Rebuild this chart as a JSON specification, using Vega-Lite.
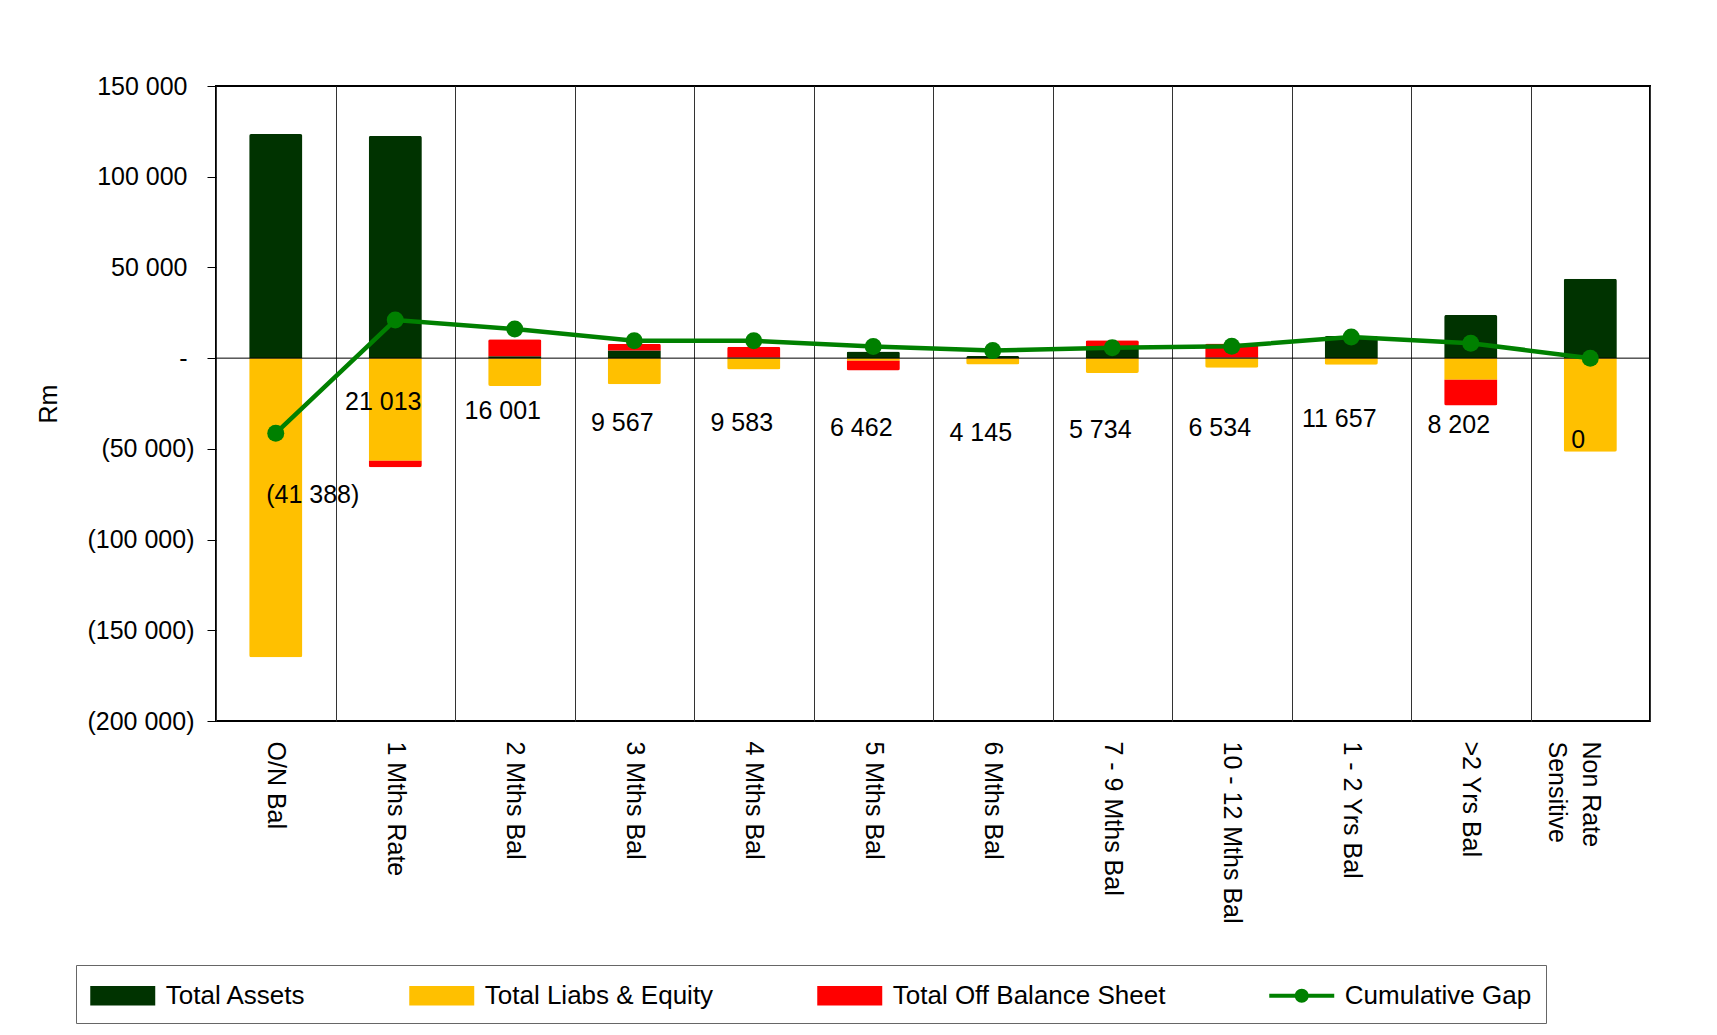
{
  "$schema": "https://vega.github.io/schema/vega-lite/v6.json",
  "width": 1434,
  "height": 635,
  "autosize": {"type": "none"},
  "padding": {"left": 216, "top": 86, "right": 67, "bottom": 314},
  "background": "#ffffff",
  "config": {
    "font": "Liberation Sans",
    "locale": {"number": {"decimal": ".", "thousands": " ", "grouping": [3], "currency": ["", ""]}},
    "view": {"stroke": "#000000", "strokeWidth": 2},
    "axis": {"labelFont": "Liberation Sans", "labelColor": "#000000", "titleFont": "Liberation Sans", "titleColor": "#000000"}
  },
  "datasets": {
    "bars": [
      {"bucket": "O/N Bal", "series": "Total Assets", "value": 123500},
      {"bucket": "O/N Bal", "series": "Total Liabs & Equity", "value": -164888},
      {"bucket": "1 Mths Rate", "series": "Total Assets", "value": 122500},
      {"bucket": "1 Mths Rate", "series": "Total Liabs & Equity", "value": -56500},
      {"bucket": "1 Mths Rate", "series": "Total Off Balance Sheet", "value": -3599},
      {"bucket": "2 Mths Bal", "series": "Total Assets", "value": 1000},
      {"bucket": "2 Mths Bal", "series": "Total Liabs & Equity", "value": -15412},
      {"bucket": "2 Mths Bal", "series": "Total Off Balance Sheet", "value": 9400},
      {"bucket": "3 Mths Bal", "series": "Total Assets", "value": 4200},
      {"bucket": "3 Mths Bal", "series": "Total Liabs & Equity", "value": -14334},
      {"bucket": "3 Mths Bal", "series": "Total Off Balance Sheet", "value": 3700},
      {"bucket": "4 Mths Bal", "series": "Total Assets", "value": 300},
      {"bucket": "4 Mths Bal", "series": "Total Liabs & Equity", "value": -6284},
      {"bucket": "4 Mths Bal", "series": "Total Off Balance Sheet", "value": 6000},
      {"bucket": "5 Mths Bal", "series": "Total Assets", "value": 3700},
      {"bucket": "5 Mths Bal", "series": "Total Liabs & Equity", "value": -1500},
      {"bucket": "5 Mths Bal", "series": "Total Off Balance Sheet", "value": -5321},
      {"bucket": "6 Mths Bal", "series": "Total Assets", "value": 1200},
      {"bucket": "6 Mths Bal", "series": "Total Liabs & Equity", "value": -3517},
      {"bucket": "7 - 9 Mths Bal", "series": "Total Assets", "value": 6500},
      {"bucket": "7 - 9 Mths Bal", "series": "Total Liabs & Equity", "value": -8211},
      {"bucket": "7 - 9 Mths Bal", "series": "Total Off Balance Sheet", "value": 3300},
      {"bucket": "10 - 12 Mths Bal", "series": "Total Assets", "value": 300},
      {"bucket": "10 - 12 Mths Bal", "series": "Total Liabs & Equity", "value": -5300},
      {"bucket": "10 - 12 Mths Bal", "series": "Total Off Balance Sheet", "value": 7800},
      {"bucket": "1 - 2 Yrs Bal", "series": "Total Assets", "value": 12200},
      {"bucket": "1 - 2 Yrs Bal", "series": "Total Liabs & Equity", "value": -3600},
      {"bucket": ">2 Yrs Bal", "series": "Total Assets", "value": 23800},
      {"bucket": ">2 Yrs Bal", "series": "Total Liabs & Equity", "value": -11900},
      {"bucket": ">2 Yrs Bal", "series": "Total Off Balance Sheet", "value": -14200},
      {"bucket": "Non Rate Sensitive", "series": "Total Assets", "value": 43800},
      {"bucket": "Non Rate Sensitive", "series": "Total Liabs & Equity", "value": -51600}
    ],
    "gaps": [
      {"bucket": "O/N Bal", "gap": -41388},
      {"bucket": "1 Mths Rate", "gap": 21013},
      {"bucket": "2 Mths Bal", "gap": 16001},
      {"bucket": "3 Mths Bal", "gap": 9567},
      {"bucket": "4 Mths Bal", "gap": 9583},
      {"bucket": "5 Mths Bal", "gap": 6462},
      {"bucket": "6 Mths Bal", "gap": 4145},
      {"bucket": "7 - 9 Mths Bal", "gap": 5734},
      {"bucket": "10 - 12 Mths Bal", "gap": 6534},
      {"bucket": "1 - 2 Yrs Bal", "gap": 11657},
      {"bucket": ">2 Yrs Bal", "gap": 8202},
      {"bucket": "Non Rate Sensitive", "gap": 0}
    ]
  },
  "layer": [
    {
      "data": {"name": "bars"},
      "mark": {"type": "bar", "width": {"band": 0.445}, "cornerRadius": 2},
      "encoding": {
        "x": {
          "field": "bucket",
          "type": "nominal",
          "title": null,
          "scale": {
            "domain": ["O/N Bal", "1 Mths Rate", "2 Mths Bal", "3 Mths Bal", "4 Mths Bal", "5 Mths Bal", "6 Mths Bal", "7 - 9 Mths Bal", "10 - 12 Mths Bal", "1 - 2 Yrs Bal", ">2 Yrs Bal", "Non Rate Sensitive"],
            "paddingInner": 0,
            "paddingOuter": 0
          },
          "axis": {
            "labelAngle": 90,
            "labelAlign": "left",
            "labelBaseline": "middle",
            "labelFontSize": 25,
            "labelPadding": 20,
            "labelLimit": 400,
            "labelLineHeight": 34,
            "labelOverlap": false,
            "labelExpr": "datum.value == 'Non Rate Sensitive' ? ['Non Rate', 'Sensitive'] : datum.label",
            "ticks": false,
            "tickSize": 0,
            "domain": false,
            "grid": true,
            "tickBand": "extent",
            "gridColor": "#333333",
            "gridWidth": 1
          }
        },
        "y": {
          "field": "value",
          "type": "quantitative",
          "stack": "zero",
          "title": "Rm",
          "scale": {"domain": [-200000, 150000], "nice": false, "zero": false},
          "axis": {
            "values": [-200000, -150000, -100000, -50000, 0, 50000, 100000, 150000],
            "format": "(,.0f",
            "labelExpr": "datum.value == 0 ? '-' : datum.label",
            "labelFontSize": 25,
            "labelPadding": {"condition": {"test": "datum.value >= 0", "value": 20}, "value": 13},
            "labelOverlap": false,
            "tickSize": 9,
            "tickColor": "#000000",
            "tickWidth": 1,
            "domain": false,
            "grid": false,
            "titleFontSize": 25,
            "titleFontWeight": "normal",
            "titlePadding": 25
          }
        },
        "order": {"field": "series", "sort": "ascending"},
        "color": {
          "field": "series",
          "type": "nominal",
          "scale": {
            "domain": ["Total Assets", "Total Liabs & Equity", "Total Off Balance Sheet", "Cumulative Gap"],
            "range": ["#003300", "#ffc000", "#ff0000", "#008000"]
          },
          "legend": {
            "orient": "none",
            "legendX": -140,
            "legendY": 879,
            "direction": "horizontal",
            "title": null,
            "padding": 14,
            "strokeColor": "#666666",
            "fillColor": "#ffffff",
            "labelFont": "Liberation Sans",
            "labelFontSize": 26,
            "labelColor": "#000000",
            "labelLimit": 500,
            "symbolSize": 1056,
            "symbolOffset": 16.25,
            "labelOffset": 26.5,
            "columnPadding": 103,
            "symbolStrokeWidth": 0,
            "encode": {
              "symbols": {
                "update": {
                  "shape": {"signal": "datum.value === 'Cumulative Gap' ? 'M-2,-0.125H2V0.125H-2Z M0.43,0A0.43,0.43 0 1,1 -0.43,0A0.43,0.43 0 1,1 0.43,0Z' : 'M-2,-0.6H2V0.6H-2Z'"},
                  "fill": {"signal": "scale('color', datum.value)"},
                  "fillOpacity": {"value": 1},
                  "opacity": {"value": 1},
                  "strokeWidth": {"value": 0}
                }
              }
            }
          }
        }
      }
    },
    {
      "data": {"values": [{}]},
      "mark": {"type": "rule", "color": "#000000", "strokeWidth": 1},
      "encoding": {"y": {"datum": 0}}
    },
    {
      "data": {"name": "gaps"},
      "mark": {"type": "line", "strokeWidth": 4.5, "point": {"filled": true, "size": 289, "opacity": 1}},
      "encoding": {
        "x": {"field": "bucket", "type": "nominal"},
        "y": {"field": "gap", "type": "quantitative"},
        "color": {"datum": "Cumulative Gap"}
      }
    },
    {
      "data": {"name": "gaps"},
      "transform": [{"filter": "datum.bucket != 'O/N Bal'"}],
      "mark": {"type": "text", "fontSize": 25, "font": "Liberation Sans", "color": "#000000", "dx": -12, "dy": 82},
      "encoding": {
        "x": {"field": "bucket", "type": "nominal"},
        "y": {"field": "gap", "type": "quantitative"},
        "text": {"field": "gap", "type": "quantitative", "format": "(,.0f"}
      }
    },
    {
      "data": {"name": "gaps"},
      "transform": [{"filter": "datum.bucket == 'O/N Bal'"}],
      "mark": {"type": "text", "fontSize": 25, "font": "Liberation Sans", "color": "#000000", "dx": 37, "dy": 62},
      "encoding": {
        "x": {"field": "bucket", "type": "nominal"},
        "y": {"field": "gap", "type": "quantitative"},
        "text": {"field": "gap", "type": "quantitative", "format": "(,.0f"}
      }
    }
  ]
}
